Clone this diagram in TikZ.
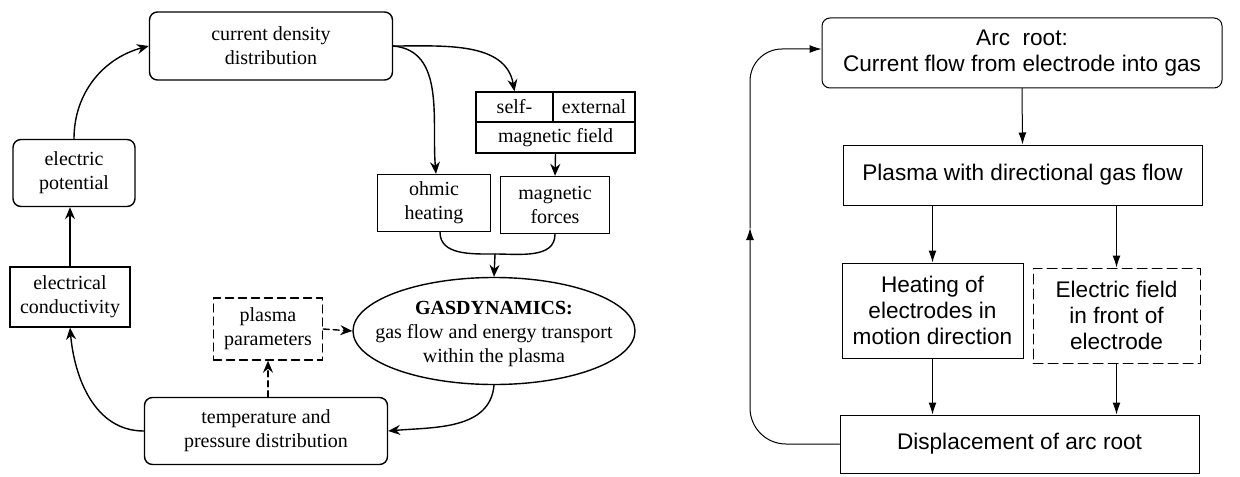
\documentclass[tikz,border=0pt]{standalone}
\usepackage{fontspec}
\setmainfont{Liberation Serif}
\newfontfamily\arialfont{Liberation Sans}
\usetikzlibrary{shapes.geometric,arrows.meta}

\begin{document}
\begin{tikzpicture}[x=0.5pt, y=-0.5pt,
                    >={Stealth[length=6pt,width=5pt,inset=2pt]}, line cap=round,
                    lbox/.style={draw, line width=0.7pt, align=center, inner sep=0pt,
                                 font=\fontsize{10}{12}\selectfont},
                    lround/.style={lbox, rounded corners=4pt},
                    ldash/.style={lbox, dash pattern=on 4pt off 2.5pt},
                    larr/.style={->, line width=0.7pt},
                    rbox/.style={draw, line width=0.5pt, align=center, inner sep=0pt,
                                 font=\arialfont\fontsize{11.3}{12.8}\selectfont},
                    rround/.style={rbox, rounded corners=4pt},
                    rdash/.style={rbox, dash pattern=on 5pt off 2.5pt},
                    rarr/.style={-{Latex[length=6pt,width=4pt]}, line width=0.5pt}
                   ]
\useasboundingbox (0,0) rectangle (1240,476);

% left: current loop
\node[lround, minimum width=121.5pt, minimum height=34pt] (cd) at (271,46)
    {current density\\distribution};
\node[lround, minimum width=61pt, minimum height=33.5pt] (pot) at (74,173)
    {electric\\potential};
\node[lbox, minimum width=60pt, minimum height=30pt] (cond) at (70,297)
    {electrical\\conductivity};
\node[ldash, minimum width=54.5pt, minimum height=31pt] (pp) at (268,329)
    {plasma\\parameters};
\node[lround, minimum width=121.5pt, minimum height=33.5pt] (temp) at (266,431)
    {temperature and\\pressure distribution};
\node[lbox, ellipse, minimum width=141pt, minimum height=53.5pt] (gas) at (494,331) {};
\node[align=center, inner sep=0pt, font=\fontsize{10}{12}\selectfont]
    (gastext) at ([yshift=-1.5pt]gas.center)
    {\textbf{GASDYNAMICS:}\\gas flow and energy transport\\within the plasma};
\node[lbox, minimum width=56.5pt, minimum height=28.5pt] (ohm) at (434,203)
    {ohmic\\heating};
\node[lbox, minimum width=54.5pt, minimum height=28.5pt] (mf) at (555,205)
    {magnetic\\forces};
\node[lbox, minimum width=38.5pt, minimum height=15pt] (self) at (514.5,107) {self-};
\node[lbox, minimum width=41pt, minimum height=15pt] (ext) at (594,107) {external};
\node[lbox, minimum width=79.5pt, minimum height=15.5pt] (field) at (555.5,137.5)
    {magnetic field};

\draw[larr] (pot.north) to[out=90, in=195] (cd.west);
\draw[larr] (cond.north) -- (cond.north |- pot.south);
\draw[larr] (temp.west) to[out=180, in=-85] (cond.south);
\draw[larr, dash pattern=on 3pt off 2pt] (pp.south |- temp.north) -- (pp.south);
\draw[larr, dash pattern=on 3pt off 2pt] (pp.east) -- (gas.west);
\draw[larr] (gas.south) to[out=-95, in=5] (temp.east);
\draw[larr] (cd.east) to[out=-5, in=95] ([xshift=1pt]ohm.north);
\draw[larr] (cd.east) to[out=0, in=100] (self.north);
\draw[larr] (field.south) -- (mf.north);
\coordinate (merge) at (495,254);
\draw[line width=0.7pt] ([xshift=3pt]ohm.south) to[out=-90, in=180] (merge)
    to[out=0, in=-90] (mf.south);
\draw[larr] (merge) -- (gas.north);

% right: arc root motion
\node[rround, minimum width=200pt, minimum height=35pt] (arc) at (1022,53)
    {Arc\ \ root:\\Current flow from electrode into gas};
\node[rbox, minimum width=179.5pt, minimum height=30pt] (plasma) at (1022.5,175)
    {Plasma with directional gas flow};
\node[rbox, minimum width=90.5pt, minimum height=47.5pt] (heat) at (932.5,310.5)
    {Heating of\\electrodes in\\motion direction};
\node[rdash, minimum width=83.5pt, minimum height=47.5pt] (ef) at (1116.5,315.5)
    {Electric field\\in front of\\electrode};
\node[rbox, minimum width=179.5pt, minimum height=29pt] (disp) at (1019.5,444)
    {Displacement of arc root};

\draw[rarr] (arc.south) -- (plasma.north);
\draw[rarr] (heat.north |- plasma.south) -- (heat.north);
\draw[rarr] (ef.north |- plasma.south) -- (ef.north);
\draw[rarr] (heat.south) -- (heat.south |- disp.north);
\draw[rarr] (ef.south) -- (ef.south |- disp.north);
\coordinate (back) at (750,228);
\draw[rarr, rounded corners=18pt] (disp.west) -| (back);
\draw[rarr, rounded corners=16pt] (back) |- ([yshift=2pt]arc.west);
\end{tikzpicture}
\end{document}
